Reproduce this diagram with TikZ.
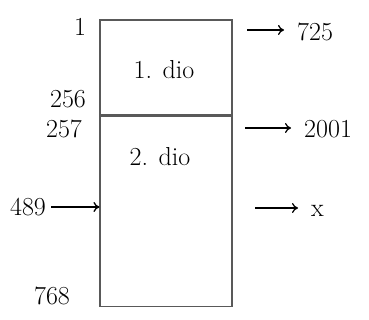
\documentclass[tikz,border=0pt]{standalone}
\usetikzlibrary{arrows.meta}
\begin{document}
\begin{tikzpicture}[x=1pt, y=-1pt, >={To[length=6pt,width=10pt]}, font=\fontsize{26}{28}\selectfont,
    part/.style={draw=black!65, line width=1.1pt, minimum width=132pt, inner sep=0pt},
    num/.style={inner sep=1pt},
    arr/.style={->, line width=1.3pt, shorten >=12pt}]
  \useasboundingbox (0,0) rectangle (369,320);

  % the two parts
  \node[part, minimum height=95pt] (dio1) at (166,67.5) {};
  \node[part, minimum height=190pt, anchor=north] (dio2) at (dio1.south) {};
  \node (lbl1) at (164,70) {1. dio};
  \node (lbl2) at (160,157) {2. dio};

  % left side
  \node[num] (n1)   at (80,27)  {1};
  \node[num] (n256) at (68,99)  {256};
  \node[num] (n257) at (64,129) {257};
  \node[num] (n489) at (28,207) {489};
  \node[num] (n768) at (52,296) {768};
  \draw[arr, shorten >=0pt, shorten <=4pt] (n489) -- (n489 -| dio2.west);

  % right side
  \node[num, anchor=west] (r725)  at (296,32)  {725};
  \node[num, anchor=west] (r2001) at (303,129) {2001};
  \node[num, anchor=west] (rx)    at (310,211) {x};
  \coordinate (s725)  at (247,30);
  \coordinate (s2001) at (245,128);
  \coordinate (sx)    at (255,208);
  \draw[arr] (s725) -- (s725 -| r725.west);
  \draw[arr] (s2001) -- (s2001 -| r2001.west);
  \draw[arr] (sx) -- (sx -| rx.west);
\end{tikzpicture}
\end{document}
